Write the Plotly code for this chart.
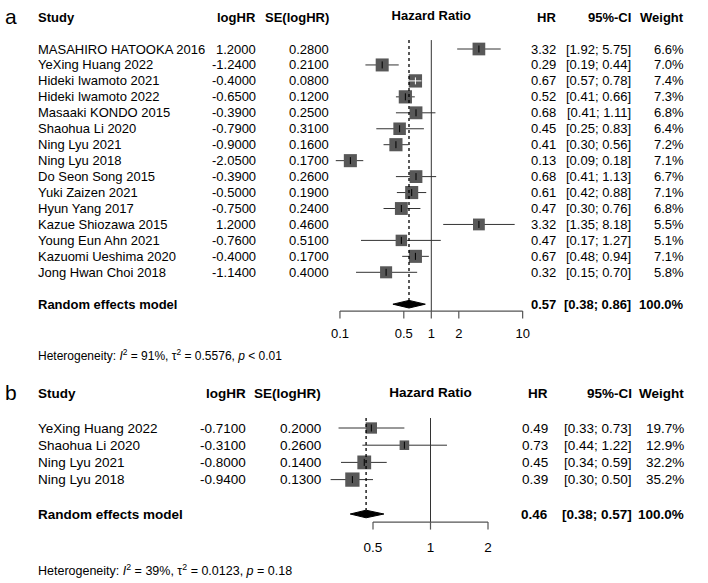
import math
import plotly.graph_objects as go

# ---------------- data: panel a ----------------
studies_a = ["MASAHIRO HATOOKA 2016", "YeXing Huang 2022", "Hideki Iwamoto 2021",
             "Hideki Iwamoto 2022", "Masaaki KONDO 2015", "Shaohua Li 2020",
             "Ning Lyu 2021", "Ning Lyu 2018", "Do Seon Song 2015", "Yuki Zaizen 2021",
             "Hyun Yang 2017", "Kazue Shiozawa 2015", "Young Eun Ahn 2021",
             "Kazuomi Ueshima 2020", "Jong Hwan Choi 2018"]
loghr_a = [1.20, -1.24, -0.40, -0.65, -0.39, -0.79, -0.90, -2.05, -0.39, -0.50,
           -0.75, 1.20, -0.76, -0.40, -1.14]
se_a = [0.28, 0.21, 0.08, 0.12, 0.25, 0.31, 0.16, 0.17, 0.26, 0.19, 0.24, 0.46,
        0.51, 0.17, 0.40]
hr_a = [3.32, 0.29, 0.67, 0.52, 0.68, 0.45, 0.41, 0.13, 0.68, 0.61, 0.47, 3.32,
        0.47, 0.67, 0.32]
lo_a = [1.92, 0.19, 0.57, 0.41, 0.41, 0.25, 0.30, 0.09, 0.41, 0.42, 0.30, 1.35,
        0.17, 0.48, 0.15]
hi_a = [5.75, 0.44, 0.78, 0.66, 1.11, 0.83, 0.56, 0.18, 1.13, 0.88, 0.76, 8.18,
        1.27, 0.94, 0.70]
w_a = [6.6, 7.0, 7.4, 7.3, 6.8, 6.4, 7.2, 7.1, 6.7, 7.1, 6.8, 5.5, 5.1, 7.1, 5.8]
pooled_a = [0.57, 0.38, 0.86]          # HR, lower, upper
pooled_w_a = 100.0
het_a = ["91%", "0.5576", "&lt; 0.01"]  # I2, tau2, p
ticks_a = [0.1, 0.5, 1, 2, 10]
tick_labels_a = ["0.1", "0.5", "1", "2", "10"]

# ---------------- data: panel b ----------------
studies_b = ["YeXing Huang 2022", "Shaohua Li 2020", "Ning Lyu 2021", "Ning Lyu 2018"]
loghr_b = [-0.71, -0.31, -0.80, -0.94]
se_b = [0.20, 0.26, 0.14, 0.13]
hr_b = [0.49, 0.73, 0.45, 0.39]
lo_b = [0.33, 0.44, 0.34, 0.30]
hi_b = [0.73, 1.22, 0.59, 0.50]
w_b = [19.7, 12.9, 32.2, 35.2]
pooled_b = [0.46, 0.38, 0.57]
pooled_w_b = 100.0
het_b = ["39%", "0.0123", "= 0.18"]
ticks_b = [0.5, 1, 2]
tick_labels_b = ["0.5", "1", "2"]

headers = ["Study", "logHR", "SE(logHR)", "Hazard Ratio", "HR", "95%-CI", "Weight"]
pooled_label = "Random effects model"

# ---------------- layout / style ----------------
W, H = 708, 583
FONT = "Liberation Sans, Arial, sans-serif"
SQ_COLOR = "#585858"
LINE_COLOR = "#333333"

panels = [
    dict(label="a", studies=studies_a, loghr=loghr_a, se=se_a, hr=hr_a, lo=lo_a, hi=hi_a,
         w=w_a, pooled=pooled_a, pooled_w=pooled_w_a, het=het_a, ticks=ticks_a,
         tick_labels=tick_labels_a,
         xa="x", ya="y", xkey="xaxis", ykey="yaxis",
         one_px=431.3, ppd=91.35, row1_px=49, row_h=15.95, dom_px=(0, 380),
         cols=dict(study=37, loghr=257, se=330, hr=557, ci=632, w=685),
         fs=13, hfs=12, pooled_row=17, axis_row=17.43, tick_row=18.93, het_row=20.2,
         line_top=0.44, sq_ref=13.3, w_ref=7.4),
    dict(label="b", studies=studies_b, loghr=loghr_b, se=se_b, hr=hr_b, lo=lo_b, hi=hi_b,
         w=w_b, pooled=pooled_b, pooled_w=pooled_w_b, het=het_b, ticks=ticks_b,
         tick_labels=tick_labels_b,
         xa="x2", ya="y2", xkey="xaxis2", ykey="yaxis2",
         one_px=430.5, ppd=191.0, row1_px=428, row_h=17.2, dom_px=(385, 583),
         cols=dict(study=37, loghr=247, se=322, hr=549, ci=633, w=685),
         fs=13.5, hfs=12.5, pooled_row=6, axis_row=6.47, tick_row=8.0, het_row=9.26,
         line_top=0.42, sq_ref=14.3, w_ref=35.2),
]

fig = go.Figure()
layout_axes = {}

for P in panels:
    xa, ya = P["xa"], P["ya"]
    yref = ya
    rh = P["row_h"]

    def row_of(px, P=P):
        return 1 + (px - P["row1_px"]) / P["row_h"]

    d0, d1 = P["dom_px"]
    layout_axes[P["xkey"]] = dict(type="log", domain=[0, 1], visible=False,
                                  range=[-P["one_px"] / P["ppd"], (W - P["one_px"]) / P["ppd"]],
                                  anchor=ya, fixedrange=True)
    layout_axes[P["ykey"]] = dict(domain=[1 - d1 / H, 1 - d0 / H], visible=False,
                                  range=[row_of(d1), row_of(d0)], anchor=xa, fixedrange=True)

    n = len(P["studies"])
    rows = list(range(1, n + 1))
    sizes = [P["sq_ref"] * (wi / P["w_ref"]) ** 0.4 for wi in P["w"]]

    # CI lines
    cx, cy = [], []
    inside = []
    for i in range(n):
        cx += [P["lo"][i], P["hi"][i], None]
        cy += [rows[i], rows[i], None]
        half = sizes[i] / 2 / P["ppd"]
        lh = math.log10(P["hr"][i])
        inside.append(math.log10(P["lo"][i]) > lh - half and math.log10(P["hi"][i]) < lh + half)
    fig.add_trace(go.Scatter(x=cx, y=cy, mode="lines", xaxis=xa, yaxis=ya,
                             line=dict(color=LINE_COLOR, width=1), hoverinfo="skip",
                             showlegend=False, cliponaxis=False))
    # squares
    fig.add_trace(go.Scatter(x=P["hr"], y=rows, mode="markers", xaxis=xa, yaxis=ya,
                             marker=dict(symbol="square", size=sizes, color=SQ_COLOR,
                                         opacity=1, line=dict(width=0)),
                             opacity=1, showlegend=False, cliponaxis=False))
    # white lines for CIs inside the box
    wx, wy = [], []
    for i in range(n):
        if inside[i]:
            wx += [P["lo"][i], P["hi"][i], None]
            wy += [rows[i], rows[i], None]
    if wx:
        fig.add_trace(go.Scatter(x=wx, y=wy, mode="lines", xaxis=xa, yaxis=ya,
                                 line=dict(color="white", width=1), hoverinfo="skip",
                                 showlegend=False, cliponaxis=False))
    # point-estimate ticks
    fig.add_trace(go.Scatter(x=P["hr"], y=rows, mode="markers", xaxis=xa, yaxis=ya,
                             marker=dict(symbol="line-ns", size=5,
                                         line=dict(width=1, color=["white" if f else "black" for f in inside])),
                             showlegend=False, cliponaxis=False))

    # vertical reference lines
    fig.add_trace(go.Scatter(x=[1, 1], y=[P["line_top"], P["axis_row"]], mode="lines",
                             xaxis=xa, yaxis=ya, line=dict(color=LINE_COLOR, width=1),
                             showlegend=False, hoverinfo="skip", cliponaxis=False))
    dh = 3.8 / rh
    pr = P["pooled_row"]
    fig.add_trace(go.Scatter(x=[P["pooled"][0]] * 2, y=[P["line_top"], pr - dh], mode="lines",
                             xaxis=xa, yaxis=ya, line=dict(color="black", width=1.3, dash="dot"),
                             showlegend=False, hoverinfo="skip", cliponaxis=False))
    # diamond
    hrp, lop, hip = P["pooled"]
    fig.add_trace(go.Scatter(x=[lop, hrp, hip, hrp, lop], y=[pr, pr - dh, pr, pr + dh, pr],
                             mode="lines", fill="toself", fillcolor="black",
                             line=dict(color="black", width=1), xaxis=xa, yaxis=ya,
                             showlegend=False, hoverinfo="skip", cliponaxis=False))
    # x axis
    ar = P["axis_row"]
    tl = 7.5 / rh
    ax_x = [P["ticks"][0], P["ticks"][-1], None]
    ax_y = [ar, ar, None]
    for t in P["ticks"]:
        ax_x += [t, t, None]
        ax_y += [ar, ar + tl, None]
    fig.add_trace(go.Scatter(x=ax_x, y=ax_y, mode="lines", xaxis=xa, yaxis=ya,
                             line=dict(color="#555555", width=1.2), showlegend=False,
                             hoverinfo="skip", cliponaxis=False))
    fig.add_trace(go.Scatter(x=P["ticks"], y=[P["tick_row"]] * len(P["ticks"]), mode="text",
                             text=P["tick_labels"], textposition="middle center",
                             textfont=dict(family=FONT, size=P["fs"], color="black"),
                             xaxis=xa, yaxis=ya, showlegend=False, hoverinfo="skip",
                             cliponaxis=False))
    # header "Hazard Ratio" centred at HR = 1
    fig.add_trace(go.Scatter(x=[1], y=[-1], mode="text", text=["<b>" + headers[3] + "</b>"],
                             textposition="middle center",
                             textfont=dict(family=FONT, size=P["fs"], color="black"),
                             xaxis=xa, yaxis=ya, showlegend=False, hoverinfo="skip",
                             cliponaxis=False))

    # text columns
    def txt(xpx, row, text, anchor, size=None, bold=False):
        fig.add_annotation(x=xpx / W, xref="paper", y=row, yref=yref,
                           text=("<b>%s</b>" % text) if bold else text,
                           xanchor=anchor, yanchor="middle", showarrow=False,
                           borderpad=0,
                           font=dict(family=FONT, size=size or P["fs"], color="black"))

    C = P["cols"]
    txt(4, -1.05, P["label"], "left", size=21)
    txt(C["study"], -1, headers[0], "left", bold=True)
    txt(C["loghr"], -1, headers[1], "right", bold=True)
    txt(C["se"], -1, headers[2], "right", bold=True)
    txt(C["hr"], -1, headers[4], "right", bold=True)
    txt(C["ci"], -1, headers[5], "right", bold=True)
    txt(C["w"], -1, headers[6], "right", bold=True)
    for i in range(n):
        r = rows[i]
        txt(C["study"], r, P["studies"][i], "left")
        txt(C["loghr"], r, "%.4f" % P["loghr"][i], "right")
        txt(C["se"], r, "%.4f" % P["se"][i], "right")
        txt(C["hr"], r, "%.2f" % P["hr"][i], "right")
        txt(C["ci"], r, "[%.2f; %.2f]" % (P["lo"][i], P["hi"][i]), "right")
        txt(C["w"], r, "%.1f%%" % P["w"][i], "right")
    txt(C["study"], pr, pooled_label, "left", bold=True)
    txt(C["hr"], pr, "%.2f" % hrp, "right", bold=True)
    txt(C["ci"], pr, "[%.2f; %.2f]" % (lop, hip), "right", bold=True)
    txt(C["w"], pr, "%.1f%%" % P["pooled_w"], "right", bold=True)
    i2, tau2, pv = P["het"]
    txt(C["study"], P["het_row"],
        "Heterogeneity: <i>I</i><sup>2</sup> = %s, \u03c4<sup>2</sup> = %s, <i>p</i> %s" % (i2, tau2, pv),
        "left", size=P["hfs"])

fig.update_layout(width=W, height=H, margin=dict(l=0, r=0, t=0, b=0),
                  paper_bgcolor="white", plot_bgcolor="white", showlegend=False,
                  **layout_axes)
fig.write_html("out.html")
